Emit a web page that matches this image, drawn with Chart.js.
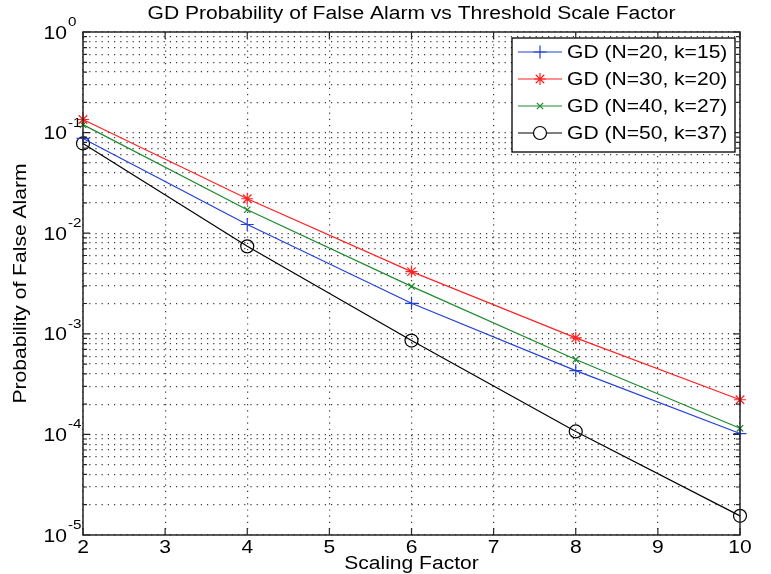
<!DOCTYPE html>
<html>
<head>
<meta charset="utf-8">
<script src="https://cdn.jsdelivr.net/npm/chart.js@4.4.0/dist/chart.umd.min.js"></script>
<style>
  html, body { margin: 0; padding: 0; background: #fff; }
  #wrap { width: 771px; height: 574px; }
</style>
</head>
<body>
<div id="wrap"><canvas id="pfa" width="771" height="574"></canvas></div>
<script>
// scaling factor (x axis)
var scaleFactors = [2, 4, 6, 8, 10];

// probability of false alarm
var pfaN20 = [0.0875, 0.0122, 0.00201, 0.00043, 0.000102];
var pfaN30 = [0.135, 0.022, 0.00415, 0.00091, 0.000221];
var pfaN40 = [0.12, 0.0171, 0.00296, 0.000556, 0.000115];
var pfaN50 = [0.078, 0.0074, 0.000857, 0.000107, 0.0000155];

var seriesLabels = ['GD (N=20, k=15)', 'GD (N=30, k=20)', 'GD (N=40, k=27)', 'GD (N=50, k=37)'];

// axis ticks
var xTicks = [2, 3, 4, 5, 6, 7, 8, 9, 10];
var yDecades = [-5, -4, -3, -2, -1, 0];

var FONT = "'Liberation Sans', Arial, Helvetica, sans-serif";
var STRETCH = 1.17; // the old matlab export has wide-ish glyphs

function toPoints(arr) {
    return arr.map(function (v, i) { return { x: scaleFactors[i], y: v }; });
}

// log ticks: 1..9 x 10^d for every decade, plus the top
var yTickValues = [];
yDecades.forEach(function (d, i) {
    if (i === yDecades.length - 1) {
        yTickValues.push(Math.pow(10, d));
        return;
    }
    for (var m = 1; m <= 9; m++) yTickValues.push(m * Math.pow(10, d));
});

var datasets = [
    { label: seriesLabels[0], data: toPoints(pfaN20), borderColor: '#2340d8', pointStyle: 'cross', pointRadius: 6.5 },
    { label: seriesLabels[1], data: toPoints(pfaN30), borderColor: '#ff2222', pointStyle: 'star', pointRadius: 6 },
    { label: seriesLabels[2], data: toPoints(pfaN40), borderColor: '#1d8a2e', pointStyle: 'crossRot', pointRadius: 4.5 },
    { label: seriesLabels[3], data: toPoints(pfaN50), borderColor: '#000000', pointStyle: 'circle', pointRadius: 6.5 }
].map(function (ds) {
    ds.backgroundColor = '#ffffff';
    ds.pointBackgroundColor = 'rgba(255,255,255,0)';
    ds.pointBorderColor = ds.borderColor;
    ds.borderWidth = 1.2;
    ds.pointBorderWidth = 1.2;
    ds.pointHoverRadius = ds.pointRadius;
    ds.tension = 0;
    ds.fill = false;
    ds.clip = false;
    return ds;
});

// text with a bit of horizontal stretch
function putText(ctx, txt, x, y, size, align) {
    ctx.save();
    ctx.translate(x, y);
    ctx.scale(STRETCH, 1);
    ctx.font = size + 'px ' + FONT;
    ctx.textAlign = align || 'left';
    ctx.fillText(txt, 0, 0);
    ctx.restore();
}

// box, inward ticks, tick labels, titles and legend (matlab look)
var matlabDecor = {
    id: 'matlabDecor',
    afterDatasetsDraw: function (chart) {
        var ctx = chart.ctx;
        var a = chart.chartArea;
        var xs = chart.scales.x, ys = chart.scales.y;
        ctx.save();
        ctx.strokeStyle = '#262626';
        ctx.lineWidth = 1.5;
        ctx.strokeRect(a.left, a.top, a.right - a.left, a.bottom - a.top);

        ctx.lineWidth = 1.2;
        ctx.beginPath();
        xTicks.forEach(function (t) {
            var px = xs.getPixelForValue(t);
            ctx.moveTo(px, a.bottom); ctx.lineTo(px, a.bottom - 7);
            ctx.moveTo(px, a.top); ctx.lineTo(px, a.top + 7);
        });
        yTickValues.forEach(function (v) {
            var py = ys.getPixelForValue(v);
            var major = Math.abs(Math.log10(v) - Math.round(Math.log10(v))) < 1e-9;
            var len = major ? 7 : 4;
            ctx.moveTo(a.left, py); ctx.lineTo(a.left + len, py);
            ctx.moveTo(a.right, py); ctx.lineTo(a.right - len, py);
        });
        ctx.stroke();

        // legend
        var lx = 512, ly = 38, lw = 223, lh = 114;
        ctx.fillStyle = '#ffffff';
        ctx.fillRect(lx, ly, lw, lh);
        ctx.strokeStyle = '#000';
        ctx.lineWidth = 1.3;
        ctx.strokeRect(lx, ly, lw, lh);
        var rowY = [52, 79, 106, 133];
        ctx.textBaseline = 'middle';
        chart.data.datasets.forEach(function (ds, i) {
            var y = rowY[i];
            ctx.strokeStyle = ds.borderColor;
            ctx.lineWidth = ds.borderWidth;
            ctx.beginPath();
            ctx.moveTo(lx + 6, y); ctx.lineTo(lx + 50, y);
            ctx.stroke();
            ctx.fillStyle = '#ffffff';
            ctx.lineWidth = ds.pointBorderWidth;
            Chart.helpers.drawPoint(ctx, { pointStyle: ds.pointStyle, radius: ds.pointRadius, rotation: 0, borderWidth: ds.pointBorderWidth }, lx + 28, y);
            ctx.fillStyle = '#000';
            putText(ctx, ds.label, lx + 55, y + 1, 18, 'left');
        });
        ctx.restore();
    },
    afterDraw: function (chart) {
        var ctx = chart.ctx;
        var a = chart.chartArea;
        var xs = chart.scales.x, ys = chart.scales.y;
        ctx.save();
        ctx.fillStyle = '#000';
        ctx.textBaseline = 'alphabetic';

        // title
        putText(ctx, 'GD Probability of False Alarm vs Threshold Scale Factor', (a.left + a.right) / 2, 19, 18, 'center');

        // x tick labels
        xTicks.forEach(function (t) {
            putText(ctx, String(t), xs.getPixelForValue(t), a.bottom + 18, 18, 'center');
        });

        // x title
        putText(ctx, 'Scaling Factor', (a.left + a.right) / 2, a.bottom + 34, 18, 'center');

        // y tick labels 10^d
        yDecades.forEach(function (d) {
            var py = ys.getPixelForValue(Math.pow(10, d));
            putText(ctx, '10', a.left - 16, py + 6.5, 18, 'right');
            putText(ctx, String(d), a.left - 15, py - 6, 13, 'left');
        });

        // y title
        ctx.save();
        ctx.translate(21, (a.top + a.bottom) / 2);
        ctx.rotate(-Math.PI / 2);
        ctx.textBaseline = 'middle';
        putText(ctx, 'Probability of False Alarm', 0, 0, 18, 'center');
        ctx.restore();

        ctx.restore();
    }
};

var gridDots = { color: '#3a3a3a', lineWidth: 1.2, drawTicks: false };

var chart = new Chart(document.getElementById('pfa').getContext('2d'), {
    type: 'line',
    data: { datasets: datasets },
    options: {
        responsive: false,
        animation: false,
        layout: { padding: { left: 83, right: 31, top: 32, bottom: 39 } },
        plugins: {
            legend: { display: false },
            title: { display: false },
            tooltip: { enabled: false }
        },
        scales: {
            x: {
                type: 'linear',
                min: 2,
                max: 10,
                ticks: { display: false, stepSize: 1 },
                grid: gridDots,
                border: { display: false, dash: [1.2, 5] },
                afterBuildTicks: function (scale) {
                    scale.ticks = xTicks.map(function (v) { return { value: v }; });
                }
            },
            y: {
                type: 'logarithmic',
                min: 1e-5,
                max: 1,
                ticks: { display: false },
                grid: gridDots,
                border: { display: false, dash: [1.2, 5] },
                afterBuildTicks: function (scale) {
                    scale.ticks = yTickValues.map(function (v) { return { value: v }; });
                }
            }
        }
    },
    plugins: [matlabDecor]
});
</script>
</body>
</html>
